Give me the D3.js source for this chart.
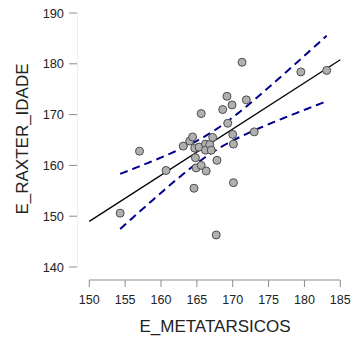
<!DOCTYPE html>
<html>
<head>
<meta charset="utf-8">
<script src="https://cdn.jsdelivr.net/npm/d3@7"></script>
<style>
  body { margin: 0; background: #fff; }
  svg text { font-family: "Liberation Sans", Arial, sans-serif; }
</style>
</head>
<body>
<div id="chart"></div>
<script>
// values
const metatarsicos = [154.3, 157.0, 160.7, 163.1, 164.0, 164.4, 164.6, 164.7, 164.8, 164.9, 165.3,
  165.6, 165.6, 166.2, 166.2, 166.3, 166.8, 167.0, 167.2, 167.7, 167.8, 168.6, 169.2, 169.3,
  169.9, 170.0, 170.1, 170.1, 171.3, 171.9, 173.0, 179.5, 183.1];
const raxterIdade = [150.6, 162.8, 159.0, 163.8, 164.8, 165.6, 155.5, 163.4, 161.5, 159.5, 163.6,
  170.2, 160.0, 164.2, 163.0, 158.9, 164.1, 163.0, 165.5, 146.3, 161.0, 171.0, 173.6, 168.3,
  171.9, 166.1, 156.6, 164.2, 180.3, 172.9, 166.6, 178.4, 178.7];
const xTicks = [150, 155, 160, 165, 170, 175, 180, 185];
const yTicks = [140, 150, 160, 170, 180, 190];

const width = 359, height = 342;
const svg = d3.select("#chart").append("svg")
  .attr("width", width).attr("height", height);

const x = d3.scaleLinear().domain([150, 185]).range([89.3, 340.3]);
const y = d3.scaleLinear().domain([140, 190]).range([267, 13]);

// least squares fit + 95% confidence band
const n = metatarsicos.length;
const mx = d3.mean(metatarsicos), my = d3.mean(raxterIdade);
let sxx = 0, sxy = 0;
metatarsicos.forEach((v, i) => { sxx += (v - mx) ** 2; sxy += (v - mx) * (raxterIdade[i] - my); });
const slope = sxy / sxx, icpt = my - slope * mx;
let sse = 0;
metatarsicos.forEach((v, i) => { sse += (raxterIdade[i] - (icpt + slope * v)) ** 2; });
const s = Math.sqrt(sse / (n - 2));
const tq = 2.04;

const xmin = d3.min(metatarsicos), xmax = d3.max(metatarsicos);
const grid = d3.range(0, 101).map(k => xmin + (xmax - xmin) * k / 100);
const band = grid.map(v => {
  const fit = icpt + slope * v;
  const se = s * Math.sqrt(1 / n + (v - mx) ** 2 / sxx);
  return {x: v, lo: fit - tq * se, hi: fit + tq * se};
});

// axes
const axisCol = "#8c8c8c";
svg.append("line")
  .attr("x1", x(150)).attr("x2", x(185)).attr("y1", 280).attr("y2", 280)
  .attr("stroke", axisCol).attr("stroke-width", 1);
svg.selectAll(".xtick").data(xTicks).enter().append("line")
  .attr("x1", d => x(d)).attr("x2", d => x(d)).attr("y1", 280).attr("y2", 287)
  .attr("stroke", axisCol);
svg.selectAll(".xlab").data(xTicks).enter().append("text")
  .attr("x", d => x(d)).attr("y", 304)
  .attr("text-anchor", "middle").attr("font-size", 12.5).attr("fill", "#222")
  .text(d => d);

svg.append("line")
  .attr("x1", 77.5).attr("x2", 77.5).attr("y1", y(190)).attr("y2", y(140))
  .attr("stroke", "#eeeeee");
svg.selectAll(".ytick").data(yTicks).enter().append("line")
  .attr("x1", 69).attr("x2", 77).attr("y1", d => y(d)).attr("y2", d => y(d))
  .attr("stroke", axisCol);
svg.selectAll(".ylab").data(yTicks).enter().append("text")
  .attr("x", 64).attr("y", d => y(d) + 4.5)
  .attr("text-anchor", "end").attr("font-size", 12.8).attr("fill", "#222")
  .text(d => d);

svg.append("text")
  .attr("x", 215).attr("y", 332).attr("text-anchor", "middle")
  .attr("font-size", 17).attr("fill", "#222").text("E_METATARSICOS");
svg.append("text")
  .attr("transform", "translate(28,139) rotate(-90)").attr("text-anchor", "middle")
  .attr("font-size", 17).attr("fill", "#222").text("E_RAXTER_IDADE");

// fitted line over whole x range
svg.append("line")
  .attr("x1", x(150)).attr("x2", x(185))
  .attr("y1", y(icpt + slope * 150)).attr("y2", y(icpt + slope * 185))
  .attr("stroke", "#000").attr("stroke-width", 1.3);

const bandLine = key => d3.line().x(d => x(d.x)).y(d => y(d[key]));
["lo", "hi"].forEach(k => {
  svg.append("path").datum(band)
    .attr("d", bandLine(k))
    .attr("fill", "none").attr("stroke", "#00008b")
    .attr("stroke-width", 2).attr("stroke-dasharray", "8,5");
});

svg.selectAll(".pt").data(metatarsicos).enter().append("circle")
  .attr("cx", d => x(d)).attr("cy", (d, i) => y(raxterIdade[i]))
  .attr("r", 4).attr("fill", "#b0b0b0").attr("stroke", "#4d4d4d").attr("stroke-width", 1);
</script>
</body>
</html>
